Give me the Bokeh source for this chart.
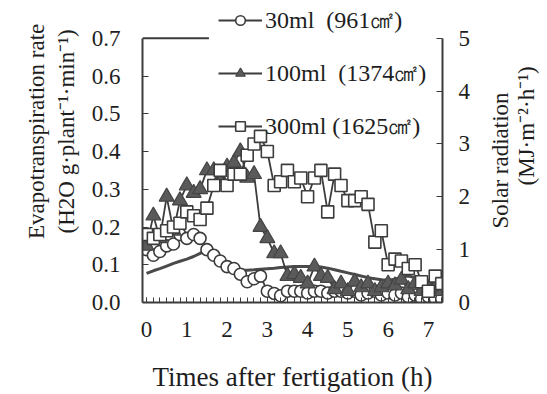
import math
from bokeh.plotting import figure
from bokeh.layouts import row
from bokeh.models import (LinearAxis, Range1d, Legend, LegendItem, Label,
                          SingleIntervalTicker, FixedTicker, PrintfTickFormatter)
from bokeh.embed import file_html
from bokeh.resources import INLINE

# time after fertigation (h), 10-minute readings
times = [0.0, 0.17, 0.33, 0.5, 0.67, 0.83, 1.0, 1.17, 1.33, 1.5, 1.67, 1.83,
         2.0, 2.17, 2.33, 2.5, 2.67, 2.83, 3.0, 3.17, 3.33, 3.5, 3.67, 3.83,
         4.0, 4.17, 4.33, 4.5, 4.67, 4.83, 5.0, 5.17, 5.33, 5.5, 5.67, 5.83,
         6.0, 6.17, 6.33, 6.5, 6.67, 6.83, 7.0, 7.17, 7.33]

# evapotranspiration rate (H2O g plant-1 min-1)
et_30ml = [0.14, 0.125, 0.135, 0.15, 0.155, 0.18, 0.17, 0.18, 0.17, 0.14,
           0.125, 0.11, 0.095, 0.09, 0.075, 0.055, 0.063, 0.07, 0.03, 0.024,
           0.018, 0.03, 0.03, 0.03, 0.025, 0.03, 0.03, 0.025, 0.03, 0.03,
           0.025, 0.03, 0.02, 0.025, 0.03, 0.02, 0.025, 0.02, 0.025, 0.015,
           0.02, 0.01, 0.015, 0.01, 0.01]
et_100ml = [0.15, 0.23, 0.17, 0.28, 0.19, 0.27, 0.31, 0.29, 0.30, 0.35,
            0.35, 0.33, 0.36, 0.37, 0.40, 0.33, 0.34, 0.20, 0.17, 0.13,
            0.13, 0.07, 0.075, 0.065, 0.05, 0.095, 0.07, 0.065, 0.035, 0.05,
            0.03, 0.055, 0.04, 0.05, 0.03, 0.04, 0.05, 0.045, 0.06, 0.035,
            0.05, 0.03, 0.035, 0.04, 0.03]
et_300ml = [0.18, 0.17, 0.18, 0.19, 0.20, 0.21, 0.24, 0.23, 0.22, 0.25,
            0.31, 0.35, 0.31, 0.34, 0.34, 0.39, 0.42, 0.44, 0.40, 0.31,
            0.32, 0.35, 0.32, 0.33, 0.28, 0.33, 0.35, 0.24, 0.34, 0.31,
            0.27, 0.27, 0.28, 0.26, 0.16, 0.19, 0.10, 0.115, 0.11, 0.09,
            0.10, 0.055, 0.03, 0.07, 0.05]

# solar radiation (MJ m-2 h-1)
solar = [0.55, 0.60, 0.64, 0.69, 0.74, 0.78, 0.82, 0.87, 0.93, 1.00,
         0.98, 0.85, 0.74, 0.66, 0.61, 0.61, 0.62, 0.63, 0.64, 0.65,
         0.66, 0.67, 0.68, 0.68, 0.68, 0.68, 0.67, 0.65, 0.62, 0.59,
         0.56, 0.53, 0.50, 0.47, 0.45, 0.43, 0.42, 0.44, 0.48, 0.50,
         0.47, 0.43, 0.41, 0.39, 0.37]

et_ticks = [0.0, 0.1, 0.2, 0.3, 0.4, 0.5, 0.6, 0.7]
solar_ticks = [0, 1, 2, 3, 4, 5]

labels = ["30ml\u00a0\u00a0(961\u33a0)", "100ml\u00a0\u00a0(1374\u33a0)", "300ml\u00a0(1625\u33a0)"]
right_title = ["Solar radiation", "(MJ\u00b7m\u207b\u00b2\u00b7h\u207b\u00b9)"]

FONT = "Liberation Serif"
INK = "#1e1e1e"
LINE = "#3c3c3c"
NB = "\u00a0"

X0, X1 = -0.1, 7.35
ET_MAX, SOLAR_MAX = 0.7, 5.0
HEAD = 0.8 / 0.7  # frame extends above the axes' top so the legend can sit there

p = figure(width=480, height=394, x_range=Range1d(X0, X1),
           y_range=Range1d(0, ET_MAX * HEAD),
           output_backend="svg", toolbar_location=None,
           min_border_left=142, min_border_right=38, min_border_top=0, min_border_bottom=90)
p.outline_line_color = None
p.grid.visible = False
p.background_fill_color = "white"
p.border_fill_color = "white"

p.extra_y_ranges = {"solar": Range1d(0, SOLAR_MAX * HEAD)}

# solar radiation line
p.line(times, solar, y_range_name="solar", line_color="#4a4a4a", line_width=3)

r30l = p.line(times, et_30ml, line_color=LINE, line_width=1.8)
r30m = p.scatter(times, et_30ml, marker="circle", size=12, fill_color="white",
                 line_color=LINE, line_width=1.6)
r100l = p.line(times, et_100ml, line_color=LINE, line_width=1.8)
r100m = p.scatter(times, et_100ml, marker="triangle", size=15, fill_color="#5a5a5a",
                  line_color="#444444", line_width=1.2)
r300l = p.line(times, et_300ml, line_color=LINE, line_width=1.8)
r300m = p.scatter(times, et_300ml, marker="square", size=12, fill_color="white",
                  line_color=LINE, line_width=1.6)

# visible part of the top frame edge (rest hidden behind the legend)
p.line([X0, 1.55], [ET_MAX, ET_MAX], line_color=LINE, line_width=2)

def style_axis(ax):
    ax.axis_line_color = LINE
    ax.axis_line_width = 2
    ax.major_tick_line_color = LINE
    ax.minor_tick_line_color = LINE
    ax.major_tick_out = 0
    ax.major_tick_in = 6
    ax.minor_tick_out = 0
    ax.minor_tick_in = 0
    ax.major_label_text_font = FONT
    ax.major_label_text_font_size = "23px"
    ax.major_label_text_color = INK
    ax.axis_label_text_font = FONT
    ax.axis_label_text_font_size = "23px"
    ax.axis_label_text_font_style = "normal"
    ax.axis_label_text_color = INK

xa = p.xaxis[0]
style_axis(xa)
xa.ticker = SingleIntervalTicker(interval=1, num_minor_ticks=6)
xa.major_tick_in = 5
xa.minor_tick_in = 5
xa.minor_tick_line_width = 1
xa.major_label_standoff = 19
xa.axis_label = "Times after fertigation (h)"
xa.axis_label_standoff = 22
xa.axis_label_text_font_size = "27px"

ya = p.yaxis[0]
style_axis(ya)
ya.bounds = (0, ET_MAX)
ya.ticker = FixedTicker(ticks=et_ticks)
ya.formatter = PrintfTickFormatter(format="%.1f")
ya.major_label_standoff = 22
ya.axis_label = (NB * 7 + "Evapotranspiration rate\n" + NB * 7 +
                 "(H2O g\u00b7plant\u207b\u00b9\u00b7min\u207b\u00b9)")
ya.axis_label_standoff = 10

ra = LinearAxis(y_range_name="solar", ticker=FixedTicker(ticks=solar_ticks))
style_axis(ra)
ra.bounds = (0, SOLAR_MAX)
ra.major_label_standoff = 16
p.add_layout(ra, "right")

legend = Legend(items=[LegendItem(label=labels[0], renderers=[r30l, r30m]),
                       LegendItem(label=labels[1], renderers=[r100l, r100m]),
                       LegendItem(label=labels[2], renderers=[r300l, r300m])],
                location=(70, 154))
legend.label_text_font = FONT
legend.label_text_font_size = "24px"
legend.label_text_color = INK
legend.glyph_width = 44
legend.glyph_height = 24
legend.label_height = 24
legend.spacing = 21
legend.padding = 6
legend.margin = 0
legend.label_standoff = 3
legend.background_fill_alpha = 0
legend.border_line_alpha = 0
p.add_layout(legend)

# right-hand axis title, reading bottom to top (anchored at the bottom end of each line;
# the side frame is aligned with the main frame, so y is measured from its bottom edge)
side = figure(width=67, height=394, x_range=Range1d(0, 1), y_range=Range1d(0, 1),
              output_backend="svg", toolbar_location=None,
              x_axis_location=None, y_axis_location=None,
              min_border_left=0, min_border_right=0, min_border_top=0, min_border_bottom=0)
side.outline_line_color = None
side.grid.visible = False
side.background_fill_color = "white"
side.border_fill_color = "white"
for txt, sx, sy in [(right_title[0], 20, 74), (right_title[1], 46, 117)]:
    side.add_layout(Label(x=sx, y=sy, x_units="screen", y_units="screen", text=txt,
                          angle=math.pi / 2, text_align="left", text_baseline="middle",
                          text_font=FONT, text_font_size="23px", text_color=INK))

layout = row(p, side, spacing=0)
open("out.html", "w").write(file_html(layout, INLINE))
